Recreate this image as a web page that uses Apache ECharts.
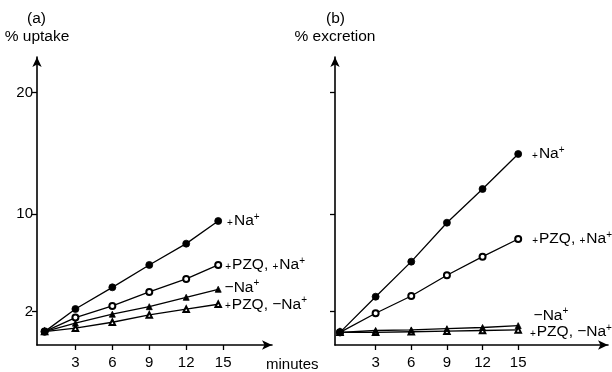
<!DOCTYPE html>
<html>
<head>
<meta charset="utf-8">
<script src="https://cdn.jsdelivr.net/npm/echarts@6/dist/echarts.min.js"></script>
<style>
    html, body { margin: 0; padding: 0; background: #fff; }
    #chart { width: 612px; height: 372px; }
</style>
</head>
<body>
<div id="chart"></div>
<script type="text/javascript">
    // (a) uptake, minutes
    var timesA = [0.5, 3, 6, 9, 12, 14.6];
    var uptakeNa = [0.36, 2.22, 4.0, 5.84, 7.59, 9.45];
    var uptakePzqNa = [0.36, 1.51, 2.47, 3.62, 4.69, 5.84];
    var uptakeNoNa = [0.36, 1.05, 1.79, 2.41, 3.18, 3.84];
    var uptakePzqNoNa = [0.36, 0.64, 1.13, 1.73, 2.2, 2.61];

    // (b) excretion
    var timesB = [0, 3, 6, 9, 12, 15];
    var excrNa = [0.3, 3.23, 6.11, 9.31, 12.08, 14.96];
    var excrPzqNa = [0.3, 1.87, 3.29, 4.99, 6.52, 7.97];
    var excrNoNa = [0.3, 0.45, 0.5, 0.6, 0.7, 0.85];
    var excrPzqNoNa = [0.3, 0.3, 0.35, 0.4, 0.45, 0.5];

    var xTicks = [3, 6, 9, 12, 15];
    var yTicks = [2, 10, 20];

    var font = 'Liberation Sans';
    var rich = {
        t: {fontSize: 15.5, fontFamily: font, color: '#000', lineHeight: 18, verticalAlign: 'middle'},
        s: {fontSize: 10, fontFamily: font, color: '#000', lineHeight: 10, verticalAlign: 'middle', padding: [4, 1, 0, 0]},
        u: {fontSize: 10, fontFamily: font, color: '#000', lineHeight: 10, verticalAlign: 'top'}
    };

    // 最后一个点带标签
    function makeData(times, vals, text, labelOpt) {
        return times.map(function (t, i) {
            var item = {value: [t, vals[i]]};
            if (i === times.length - 1) {
                item.label = Object.assign({
                    show: true,
                    position: 'right',
                    distance: 5,
                    formatter: text,
                    fontSize: 15.5,
                    fontFamily: font,
                    color: '#000',
                    rich: rich
                }, labelOpt || {});
            }
            return item;
        });
    }

    function line(idx, times, vals, symbol, size, text, labelOpt) {
        return {
            type: 'line',
            xAxisIndex: idx,
            yAxisIndex: idx,
            data: makeData(times, vals, text, labelOpt),
            symbol: symbol,
            symbolSize: size,
            showAllSymbol: true,
            lineStyle: {color: '#000', width: 1.3},
            itemStyle: {color: '#000', borderColor: '#000', borderWidth: 0.8},
            animation: false
        };
    }

    function xAxis(idx, min, max) {
        return {
            type: 'value', gridIndex: idx, min: min, max: max,
            axisLine: {show: true, onZero: false, symbol: ['none', 'arrow'], symbolSize: [7, 10],
                lineStyle: {color: '#000', width: 1.6}},
            axisTick: {show: true, length: 5, customValues: xTicks, lineStyle: {color: '#000', width: 1.3}},
            axisLabel: {show: true, customValues: xTicks, margin: 10, fontSize: 15, fontFamily: font, color: '#000'},
            splitLine: {show: false}
        };
    }

    function yAxis(idx, name, showLabels) {
        return {
            type: 'value', gridIndex: idx, min: -0.74, max: 22.93,
            name: name, nameLocation: 'end', nameGap: 12,
            nameTextStyle: {fontSize: 15.5, fontFamily: font, color: '#000', align: 'center'},
            axisLine: {show: true, onZero: false, symbol: ['none', 'arrow'], symbolSize: [7, 10],
                lineStyle: {color: '#000', width: 1.6}},
            axisTick: {show: true, length: 5, customValues: yTicks, lineStyle: {color: '#000', width: 1.3}},
            axisLabel: {show: showLabels, customValues: yTicks, margin: 4, fontSize: 15, fontFamily: font, color: '#000'},
            splitLine: {show: false}
        };
    }

    var chart = echarts.init(document.getElementById('chart'), null, {renderer: 'canvas'});
    chart.setOption({
        backgroundColor: '#fff',
        animation: false,
        grid: [
            {left: 37, top: 57, width: 235, height: 288},
            {left: 335, top: 57, width: 273, height: 288}
        ],
        xAxis: [xAxis(0, -0.12, 18.97), xAxis(1, -0.42, 22.56)],
        yAxis: [yAxis(0, '% uptake', true), yAxis(1, '% excretion', false)],
        graphic: [
            {type: 'text', left: 27, top: 11, style: {text: '(a)', fontSize: 15.5, fontFamily: font, fill: '#000'}},
            {type: 'text', left: 326, top: 11, style: {text: '(b)', fontSize: 15.5, fontFamily: font, fill: '#000'}},
            {type: 'text', left: 266, top: 357, style: {text: 'minutes', fontSize: 15, fontFamily: font, fill: '#000'}}
        ],
        series: [
            line(0, timesA, uptakePzqNoNa, 'emptyTriangle', 5.5, '{s|+}{t|PZQ, −Na}{u|+}', {distance: 3}),
            line(0, timesA, uptakePzqNa, 'emptyCircle', 6, '{s|+}{t|PZQ, }{s|+}{t|Na}{u|+}', {distance: 3}),
            line(0, timesA, uptakeNoNa, 'triangle', 6, '{t|−Na}{u|+}', {distance: 3, offset: [0, -2]}),
            line(0, timesA, uptakeNa, 'circle', 7, '{s|+}{t|Na}{u|+}', {distance: 5}),

            line(1, timesB, excrPzqNoNa, 'emptyTriangle', 5.5, '{s|+}{t|PZQ, −Na}{u|+}', {distance: 8, offset: [0, 2]}),
            line(1, timesB, excrPzqNa, 'emptyCircle', 6, '{s|+}{t|PZQ, }{s|+}{t|Na}{u|+}', {distance: 10}),
            line(1, timesB, excrNoNa, 'triangle', 6, '{t|−Na}{u|+}', {distance: 12, offset: [0, -10]}),
            line(1, timesB, excrNa, 'circle', 7, '{s|+}{t|Na}{u|+}', {distance: 10})
        ]
    });
</script>
</body>
</html>
